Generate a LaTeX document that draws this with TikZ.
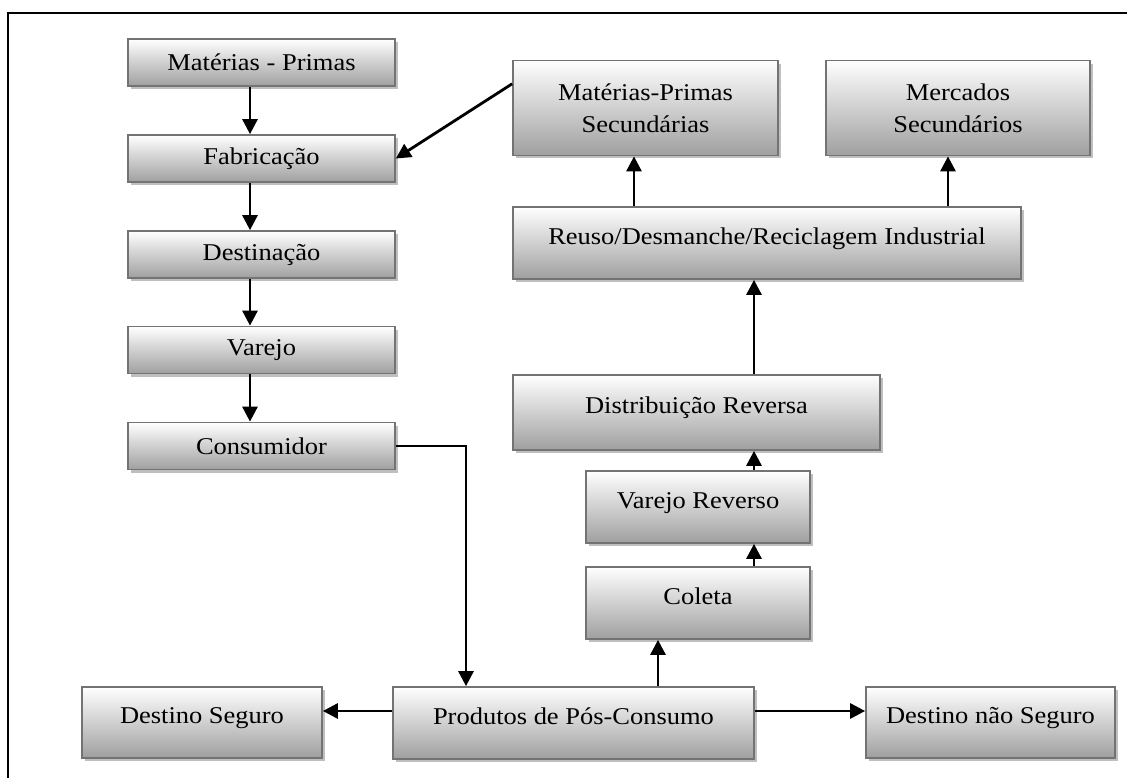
\documentclass[tikz,border=0pt]{standalone}
\usepackage{fontspec}
\setmainfont{Liberation Serif}[FakeStretch=1.1]
\usetikzlibrary{arrows.meta, shadows, calc}

\begin{document}
\begin{tikzpicture}[x=0.02cm, y=-0.02cm,
  caixa/.style={draw=black!55, line width=1pt, top color=white, bottom color=gray!75,
    general shadow={fill=black!25, shadow xshift=0.06cm, shadow yshift=-0.06cm},
    font=\fontsize{13.7}{18}\selectfont, align=center, inner sep=0pt},
  alta/.style={text height=9.5pt, text depth=8pt},
  seta/.style={-{Triangle[length=8.5pt, width=8.5pt]}, line width=1.6pt}]
  \useasboundingbox (0, 0) rectangle (1127, 778);

  % moldura
  \draw [line width=1.7pt] (8, 778) |- (1127, 13);

  % cadeia direta
  \node [caixa, minimum width=5.34cm, minimum height=0.94cm] (mp) at (261.5, 62.5) {Matérias - Primas};
  \node [caixa, minimum width=5.34cm, minimum height=0.94cm] (fab) at (261.5, 158.5) {Fabricação};
  \node [caixa, minimum width=5.34cm, minimum height=0.94cm] (dest) at (261.5, 254.5) {Destinação};
  \node [caixa, minimum width=5.34cm, minimum height=0.94cm] (var) at (261.5, 350) {Varejo};
  \node [caixa, minimum width=5.34cm, minimum height=0.94cm] (cons) at (261.5, 446) {Consumidor};

  % cadeia reversa
  \node [caixa, minimum width=5.30cm, minimum height=1.90cm] (mps) at (645.5, 108) {Matérias-Primas\\Secundárias};
  \node [caixa, minimum width=5.28cm, minimum height=1.90cm] (merc) at (958, 108) {Mercados\\Secundários};
  \node [caixa, alta, minimum width=10.16cm, minimum height=1.44cm] (reuso) at (767, 243) {Reuso/Desmanche/Reciclagem Industrial};
  \node [caixa, alta, minimum width=7.34cm, minimum height=1.50cm] (distr) at (696.5, 412.5) {Distribuição Reversa};
  \node [caixa, alta, minimum width=4.48cm, minimum height=1.44cm] (varrev) at (698, 507) {Varejo Reverso};
  \node [caixa, alta, minimum width=4.48cm, minimum height=1.44cm] (coleta) at (698, 603) {Coleta};

  \node [caixa, alta, minimum width=7.22cm, minimum height=1.44cm] (prod) at (573.5, 723) {Produtos de Pós-Consumo};
  \node [caixa, alta, minimum width=4.80cm, minimum height=1.42cm] (seguro) at (202, 722.5) {Destino Seguro};
  \node [caixa, alta, minimum width=4.98cm, minimum height=1.42cm] (naoseg) at (990.5, 722.5) {Destino não Seguro};

  \coordinate (eixo) at (250, 0);
  \coordinate (desce) at (466, 0);
  \coordinate (sobe) at (658, 0);
  \coordinate (centro) at (754, 0);
  \coordinate (esq) at (634, 0);
  \coordinate (dir) at (948, 0);
  \coordinate (linha) at (0, 711);

  \draw [seta] (mp.south -| eixo) -- (fab.north -| eixo);
  \draw [seta] (fab.south -| eixo) -- (dest.north -| eixo);
  \draw [seta] (dest.south -| eixo) -- (var.north -| eixo);
  \draw [seta] (var.south -| eixo) -- (cons.north -| eixo);
  \draw [seta] (cons.east) -| (prod.north -| desce);

  \draw [seta] (prod.west |- linha) -- (seguro.east |- linha);
  \draw [seta] (prod.east |- linha) -- (naoseg.west |- linha);

  \draw [seta] (prod.north -| sobe) -- (coleta.south -| sobe);
  \draw [seta] (coleta.north -| centro) -- (varrev.south -| centro);
  \draw [seta] (varrev.north -| centro) -- (distr.south -| centro);
  \draw [seta] (distr.north -| centro) -- (reuso.south -| centro);
  \draw [seta] (reuso.north -| esq) -- (mps.south -| esq);
  \draw [seta] (reuso.north -| dir) -- (merc.south -| dir);

  \draw [seta] ($(mps.north west)!0.25!(mps.south west)$) -- (fab.east);
\end{tikzpicture}
\end{document}
